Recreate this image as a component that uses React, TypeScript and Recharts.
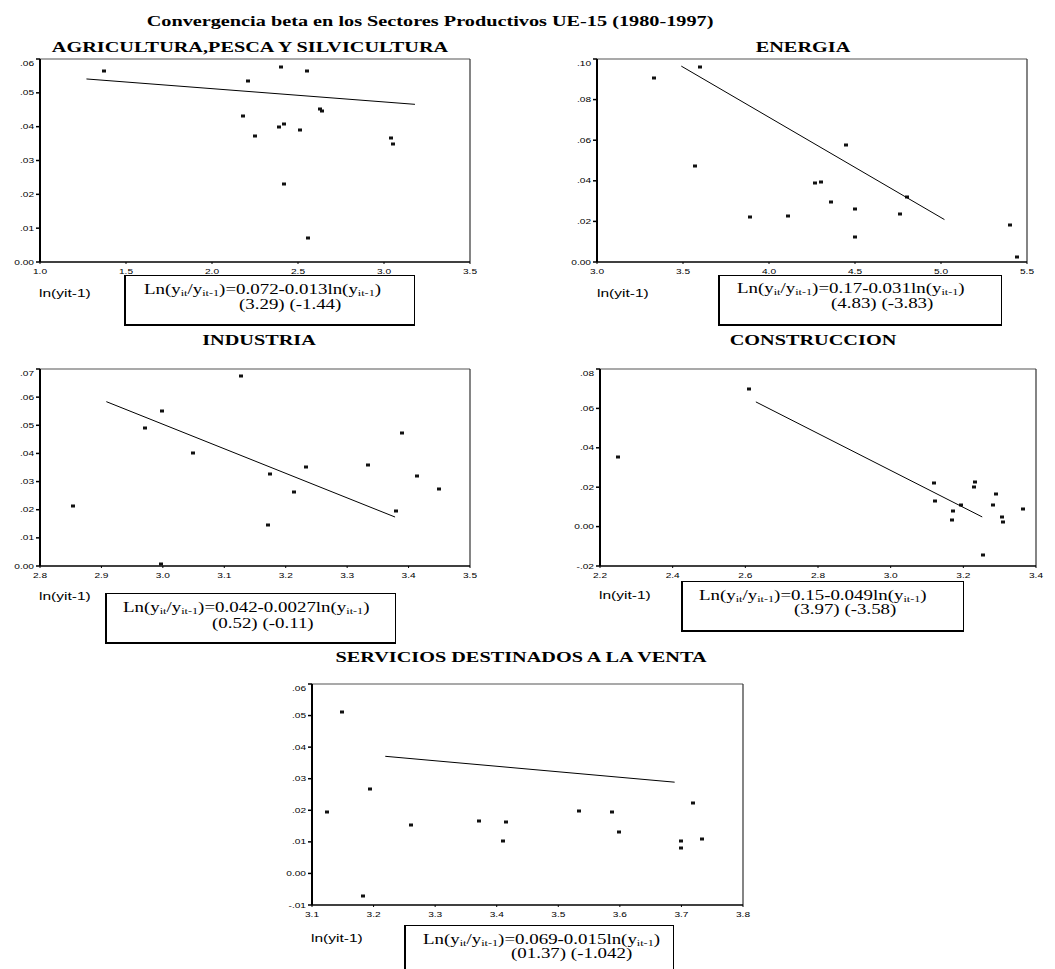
import { ScatterChart, Scatter, XAxis, YAxis, ReferenceLine } from 'recharts';

// SPSS-like scatter plots, text in the original is stretched horizontally
const SX = 1.35;
const SERIF = '"Liberation Serif", "Times New Roman", serif';
const SANS = '"Liberation Sans", Arial, sans-serif';

const MAIN_TITLE = 'Convergencia beta en los Sectores Productivos UE-15 (1980-1997)';
const PANEL_TITLES = [
  'AGRICULTURA,PESCA Y SILVICULTURA',
  'ENERGIA',
  'INDUSTRIA',
  'CONSTRUCCION',
  'SERVICIOS DESTINADOS A LA VENTA',
];
const X_LABEL = 'ln(yit-1)';

// equation boxes: coefficients and t statistics
const EQ_COEF = ['0.072-0.013', '0.17-0.031', '0.042-0.0027', '0.15-0.049', '0.069-0.015'];
const EQ_T = ['(3.29) (-1.44)', '(4.83) (-3.83)', '(0.52) (-0.11)', '(3.97) (-3.58)', '(01.37) (-1.042)'];

// AGRICULTURA
const AGRI_X = [1.37, 2.4, 2.55, 2.21, 2.18, 2.25, 2.39, 2.42, 2.51, 2.63, 2.64, 3.04, 3.05, 2.42, 2.56];
const AGRI_Y = [0.0566, 0.0576, 0.0566, 0.0535, 0.0433, 0.0371, 0.0399, 0.0407, 0.0389, 0.0453, 0.0446, 0.0366, 0.0348, 0.0231, 0.0071];
const AGRI_FIT_X = [1.27, 3.18];
const AGRI_FIT_Y = [0.0541, 0.0466];
const AGRI_XTICKS = [1.0, 1.5, 2.0, 2.5, 3.0, 3.5];
const AGRI_YTICKS = [0, 0.01, 0.02, 0.03, 0.04, 0.05, 0.06];

// ENERGIA
const ENER_X = [3.33, 3.6, 3.57, 3.89, 4.11, 4.27, 4.3, 4.36, 4.45, 4.5, 4.5, 4.76, 4.8, 5.4, 5.44];
const ENER_Y = [0.0907, 0.096, 0.0471, 0.0222, 0.0226, 0.0387, 0.0392, 0.0295, 0.0578, 0.0262, 0.0122, 0.0235, 0.0321, 0.0183, 0.0026];
const ENER_FIT_X = [3.49, 5.02];
const ENER_FIT_Y = [0.0965, 0.0209];
const ENER_XTICKS = [3.0, 3.5, 4.0, 4.5, 5.0, 5.5];
const ENER_YTICKS = [0, 0.02, 0.04, 0.06, 0.08, 0.1];

// INDUSTRIA
const IND_X = [2.854, 2.971, 2.999, 2.997, 3.049, 3.127, 3.171, 3.174, 3.213, 3.233, 3.334, 3.38, 3.39, 3.414, 3.449];
const IND_Y = [0.0212, 0.0492, 0.055, 0.0006, 0.0402, 0.0675, 0.0144, 0.0327, 0.0263, 0.0351, 0.0358, 0.0197, 0.0471, 0.0321, 0.0275];
const IND_FIT_X = [2.908, 3.378];
const IND_FIT_Y = [0.0584, 0.0174];
const IND_XTICKS = [2.8, 2.9, 3.0, 3.1, 3.2, 3.3, 3.4, 3.5];
const IND_YTICKS = [0, 0.01, 0.02, 0.03, 0.04, 0.05, 0.06, 0.07];

// CONSTRUCCION
const CONS_X = [2.249, 2.611, 3.118, 3.121, 3.17, 3.172, 3.194, 3.229, 3.232, 3.253, 3.283, 3.29, 3.306, 3.31, 3.363];
const CONS_Y = [0.0351, 0.0698, 0.0219, 0.0129, 0.0036, 0.0081, 0.0112, 0.0202, 0.0224, -0.0146, 0.0109, 0.0163, 0.0049, 0.0022, 0.0088];
const CONS_FIT_X = [2.629, 3.252];
const CONS_FIT_Y = [0.0633, 0.0049];
const CONS_XTICKS = [2.2, 2.4, 2.6, 2.8, 3.0, 3.2, 3.4];
const CONS_YTICKS = [-0.02, 0, 0.02, 0.04, 0.06, 0.08];

// SERVICIOS
const SERV_X = [3.124, 3.149, 3.183, 3.195, 3.261, 3.372, 3.411, 3.415, 3.533, 3.588, 3.599, 3.7, 3.7, 3.718, 3.733];
const SERV_Y = [0.0195, 0.0511, -0.0071, 0.0269, 0.0153, 0.0166, 0.0102, 0.0164, 0.0199, 0.0195, 0.0132, 0.0102, 0.0079, 0.0222, 0.0109];
const SERV_FIT_X = [3.219, 3.689];
const SERV_FIT_Y = [0.0371, 0.0289];
const SERV_XTICKS = [3.1, 3.2, 3.3, 3.4, 3.5, 3.6, 3.7, 3.8];
const SERV_YTICKS = [-0.01, 0, 0.01, 0.02, 0.03, 0.04, 0.05, 0.06];

const zip = (xs: number[], ys: number[]) => xs.map((x, i) => ({ x, y: ys[i] }));

const fmtY = (v: number) => (Math.abs(v) < 1e-9 ? '0.00' : v.toFixed(2).replace(/^(-?)0\./, '$1.'));
const fmtX = (v: number) => v.toFixed(1);

const YTick = ({ x, y, payload }: any) => (
  <text transform={`translate(${x},${y}) scale(${SX},1)`} textAnchor="end" dy="0.35em" fontSize={7.5} fontFamily={SANS} fill="#000">
    {fmtY(payload.value)}
  </text>
);

const XTick = ({ x, y, payload }: any) => (
  <text transform={`translate(${x},${y}) scale(${SX},1)`} textAnchor="middle" dy="0.75em" fontSize={7.5} fontFamily={SANS} fill="#000">
    {fmtX(payload.value)}
  </text>
);

// small filled rectangle, like the SPSS point marker
const Marker = (p: any) => <rect x={Math.round(p.cx) - 2} y={Math.round(p.cy) - 1.5} width={4} height={3} fill="#111" />;

interface PanelProps {
  plot: { l: number; t: number; r: number; b: number };
  pts: { x: number; y: number }[];
  fit: { x: number; y: number }[];
  xTicks: number[];
  yTicks: number[];
}

function Panel({ plot, pts, fit, xTicks, yTicks }: PanelProps) {
  const yW = 40;
  const xH = 25;
  const mt = 5;
  const mr = 10;
  const width = plot.r - plot.l + yW + mr;
  const height = plot.b - plot.t + mt + xH;
  const xDom = [xTicks[0], xTicks[xTicks.length - 1]];
  const yDom = [yTicks[0], yTicks[yTicks.length - 1]];
  return (
    <div style={{ position: 'absolute', left: plot.l - yW, top: plot.t - mt }}>
      <ScatterChart width={width} height={height} margin={{ top: mt, right: mr, bottom: 0, left: 0 }}>
        <XAxis
          type="number"
          dataKey="x"
          domain={xDom}
          ticks={xTicks}
          height={xH}
          tickSize={2}
          tickMargin={4}
          stroke="#000"
          strokeWidth={1.5}
          tickLine={{ stroke: '#000', strokeWidth: 1 }}
          tick={(p: any) => <XTick {...p} />}
          allowDataOverflow
        />
        <YAxis
          type="number"
          dataKey="y"
          domain={yDom}
          ticks={yTicks}
          width={yW}
          tickSize={4}
          tickMargin={2}
          stroke="#000"
          strokeWidth={2}
          tickLine={{ stroke: '#000', strokeWidth: 1.5 }}
          tick={(p: any) => <YTick {...p} />}
          allowDataOverflow
        />
        <ReferenceLine y={yDom[1]} stroke="#555" strokeWidth={1.2} />
        <ReferenceLine x={xDom[1]} stroke="#333" strokeWidth={1.2} />
        <Scatter data={pts} shape={Marker} isAnimationActive={false} />
        <Scatter data={fit} line={{ stroke: '#000', strokeWidth: 1 }} shape={() => <g />} isAnimationActive={false} />
      </ScatterChart>
    </div>
  );
}

function Title({ text, cx, cy }: { text: string; cx: number; cy: number }) {
  return (
    <div
      style={{
        position: 'absolute',
        left: cx,
        top: cy,
        transform: `translate(-50%, -50%) scaleX(${SX})`,
        fontFamily: SERIF,
        fontWeight: 'bold',
        fontSize: 15,
        lineHeight: 1,
        whiteSpace: 'nowrap',
        color: '#000',
      }}
    >
      {text}
    </div>
  );
}

function AxisName({ left, cy }: { left: number; cy: number }) {
  return (
    <div
      style={{
        position: 'absolute',
        left,
        top: cy - 7,
        fontFamily: SANS,
        fontSize: 11.5,
        lineHeight: '14px',
        transform: `scaleX(${SX})`,
        transformOrigin: 'left center',
        whiteSpace: 'nowrap',
      }}
    >
      {X_LABEL}
    </div>
  );
}

const sub = (s: string) => <span style={{ fontSize: 9, verticalAlign: -2 }}>{s}</span>;

function EqBox({ idx, left, top, width, height, l1, l2 }: { idx: number; left: number; top: number; width: number; height: number; l1: [number, number]; l2: [number, number] }) {
  const line = { position: 'absolute' as const, fontFamily: SERIF, fontSize: 14, lineHeight: '16px', whiteSpace: 'nowrap' as const, transform: `scaleX(${SX})`, transformOrigin: 'left center' };
  return (
    <div
      style={{
        position: 'absolute',
        left,
        top,
        width,
        height,
        boxSizing: 'border-box',
        border: '1px solid #000',
        borderLeftWidth: 2,
        borderBottomWidth: 2,
      }}
    >
      <div style={{ ...line, left: l1[0], top: l1[1] - 8 }}>
        Ln(y{sub('it')}/y{sub('it-1')})={EQ_COEF[idx]}ln(y{sub('it-1')})
      </div>
      <div style={{ ...line, left: l2[0], top: l2[1] - 8 }}>{EQ_T[idx]}</div>
    </div>
  );
}

export default function App() {
  return (
    <div style={{ position: 'absolute', left: 0, top: 0, width: 1055, height: 969, overflow: 'hidden', background: '#fff' }}>
      <Title text={MAIN_TITLE} cx={430} cy={21} />

      <Title text={PANEL_TITLES[0]} cx={250} cy={47} />
      <Panel plot={{ l: 40, t: 59, r: 470, b: 262 }} pts={zip(AGRI_X, AGRI_Y)} fit={zip(AGRI_FIT_X, AGRI_FIT_Y)} xTicks={AGRI_XTICKS} yTicks={AGRI_YTICKS} />
      <AxisName left={39} cy={293} />
      <EqBox idx={0} left={124} top={275} width={291} height={51} l1={[18, 14]} l2={[113, 29]} />

      <Title text={PANEL_TITLES[1]} cx={803} cy={47} />
      <Panel plot={{ l: 597, t: 59, r: 1027, b: 262 }} pts={zip(ENER_X, ENER_Y)} fit={zip(ENER_FIT_X, ENER_FIT_Y)} xTicks={ENER_XTICKS} yTicks={ENER_YTICKS} />
      <AxisName left={597} cy={293} />
      <EqBox idx={1} left={718} top={275} width={284} height={51} l1={[17, 13]} l2={[111, 28]} />

      <Title text={PANEL_TITLES[2]} cx={259} cy={340} />
      <Panel plot={{ l: 40, t: 369, r: 470, b: 566 }} pts={zip(IND_X, IND_Y)} fit={zip(IND_FIT_X, IND_FIT_Y)} xTicks={IND_XTICKS} yTicks={IND_YTICKS} />
      <AxisName left={39} cy={596} />
      <EqBox idx={2} left={105} top={593} width={291} height={51} l1={[16, 14]} l2={[105, 30]} />

      <Title text={PANEL_TITLES[3]} cx={813} cy={340} />
      <Panel plot={{ l: 600, t: 369, r: 1036, b: 566 }} pts={zip(CONS_X, CONS_Y)} fit={zip(CONS_FIT_X, CONS_FIT_Y)} xTicks={CONS_XTICKS} yTicks={CONS_YTICKS} />
      <AxisName left={599} cy={595} />
      <EqBox idx={3} left={681} top={581} width={283} height={51} l1={[16, 14]} l2={[111, 28]} />

      <Title text={PANEL_TITLES[4]} cx={521} cy={657} />
      <Panel plot={{ l: 312, t: 684, r: 743, b: 905 }} pts={zip(SERV_X, SERV_Y)} fit={zip(SERV_FIT_X, SERV_FIT_Y)} xTicks={SERV_XTICKS} yTicks={SERV_YTICKS} />
      <AxisName left={311} cy={938} />
      <EqBox idx={4} left={404} top={925} width={270} height={60} l1={[17, 14]} l2={[105, 28]} />
    </div>
  );
}
